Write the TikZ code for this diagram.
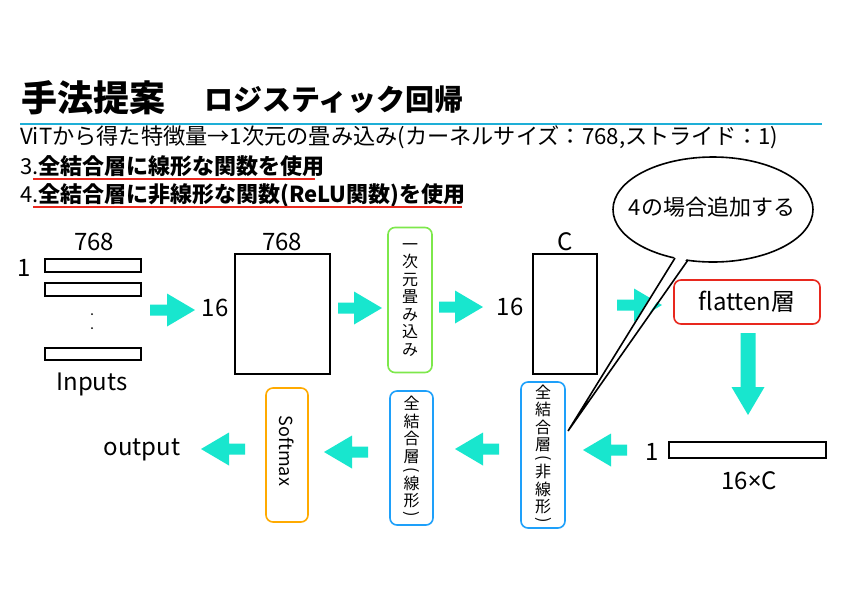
\documentclass[tikz,border=0pt]{standalone}
\usepackage{fontspec}
\setmainfont{Noto Sans CJK JP}
\newfontfamily\latinsans{Noto Sans}
\usepackage{graphicx}
\usetikzlibrary{shapes.geometric}
\definecolor{arrowc}{RGB}{24,230,206}
\definecolor{gboxc}{RGB}{125,232,75}
\definecolor{rboxc}{RGB}{232,40,30}
\definecolor{bboxc}{RGB}{30,160,250}
\definecolor{oboxc}{RGB}{255,170,0}
\definecolor{tlinec}{RGB}{30,175,215}
\definecolor{ulred}{RGB}{235,40,30}
\newcommand\lpar{\rotatebox[origin=c]{-90}{(}}
\newcommand\rpar{\rotatebox[origin=c]{-90}{)}}
\tikzset{
  lbl/.style={font=\fontsize{24}{28}\selectfont},
  mat/.style={draw, line width=1.6},
  vbox/.style={draw, line width=1.6, rounded corners=7, align=center, font=\fontsize{16}{17.5}\selectfont},
  pics/barrow/.style={code={\fill[arrowc] (0,-5.5) -- (#1-28,-5.5) -- (#1-28,-16.5) -- (#1,0) -- (#1-28,16.5) -- (#1-28,5.5) -- (0,5.5) -- cycle;}}
}
\begin{document}
\begin{tikzpicture}[x=1pt,y=-1pt, every node/.style={inner sep=0pt}]
\useasboundingbox (0,0) rectangle (842,595);
\fill[white] (0,0) rectangle (842,595);
% title
\node[anchor=west,font=\fontsize{36}{40}\selectfont\bfseries] (title) at (21,98) {手法提案};
\node[anchor=west,font=\fontsize{29}{32}\selectfont\bfseries] (sub) at (204,100) {ロジスティック回帰};
\draw[tlinec, line width=2.5] (20,124) -- (822,124);
% body
\node[anchor=west,font=\fontsize{22.2}{25}\selectfont] (l1) at (20,137) {ViTから得た特徴量→1次元の畳み込み(カーネルサイズ：768,ストライド：1)};
\node[anchor=west,font=\fontsize{22}{25}\selectfont] (l2) at (20,166) {3.\textbf{全結合層に線形な関数を使用}};
\node[anchor=west,font=\fontsize{22}{25}\selectfont] (l3) at (20,195) {4.\textbf{全結合層に非線形な関数(ReLU関数)を使用}};
\draw[ulred, line width=2] (33,179) -- (315,179);
\draw[ulred, line width=2] (33,207) -- (462,207);
% inputs
\node[lbl] (in768) at (94,242) {768};
\node[lbl] (in1) at (24,268) {1};
\draw[mat] (45,259) rectangle (141,272);
\draw[mat] (45,283) rectangle (141,296);
\fill (92,314) circle (1);
\fill (92,328) circle (1);
\draw[mat] (45,348) rectangle (141,360);
\node[lbl] (inputs) at (92,384) {Inputs};
% arrows top row
\pic at (150,310) {barrow=45};
\node[lbl] (a16) at (215,308) {16};
\node[mat, minimum width=95, minimum height=120] (m1) at (282.5,314) {};
\node[lbl] (m768) at (282,242) {768};
\pic at (338,308) {barrow=44};
\node[vbox, draw=gboxc, minimum width=44, minimum height=145] (conv) at (410,300) {一\\次\\元\\畳\\み\\込\\み};
\pic at (439,307) {barrow=44};
\node[lbl] (b16) at (510,307) {16};
\node[mat, minimum width=64, minimum height=120] (m2) at (565,314) {};
\node[lbl] (mc) at (565,242) {C};
\pic at (617,305) {barrow=45};
\node[draw=rboxc, line width=1.6, rounded corners=7, minimum width=146, minimum height=44, lbl] (flat) at (747,302) {flatten層};
% down arrow
\fill[arrowc] (740.5,333) -- (755.5,333) -- (755.5,387) -- (764.5,387) -- (748,415) -- (731.5,387) -- (740.5,387) -- cycle;
% flatten bar
\node[lbl] (f1) at (652,452) {1};
\draw[mat] (669,442) rectangle (826,458);
\node[lbl] (f16c) at (749,481) {16{\latinsans ×}C};
% bottom row
\pic[rotate=180] at (627,450) {barrow=44};
\node[vbox, draw=bboxc, minimum width=44, minimum height=146] (fc1) at (543,455) {全\\結\\合\\層\\[-5pt]\lpar\\[-3pt]非\\線\\形\\[-5pt]\rpar};
\pic[rotate=180] at (499,449) {barrow=44};
\node[vbox, draw=bboxc, minimum width=43, minimum height=134] (fc2) at (411.5,458) {全\\結\\合\\層\\[-5pt]\lpar\\[-3pt]線\\形\\[-5pt]\rpar};
\pic[rotate=180] at (368,452) {barrow=44};
\node[draw=oboxc, line width=1.6, rounded corners=7, minimum width=42, minimum height=134] (smax) at (287,455) {};
\node[rotate=-90, font=\fontsize{18}{20}\selectfont] (smaxt) at (287,451) {Softmax};
\pic[rotate=180] at (245,449) {barrow=44};
\node[lbl] (out) at (142,450) {output};
% callout
\node[ellipse, draw, line width=1.6, fill=white, minimum width=200, minimum height=105] (bubble) at (713,209.5) {};
\node[font=\fontsize{22}{26}\selectfont] (bubt) at (712,207) {4の場合追加する};
\coordinate (tip) at (568,431);
\fill[white] (675.5,255.5) -- (687.5,257.5) -- (tip) -- cycle;
\draw[line width=1.6] (675,258) -- (tip) -- (688,260);
\end{tikzpicture}
\end{document}
